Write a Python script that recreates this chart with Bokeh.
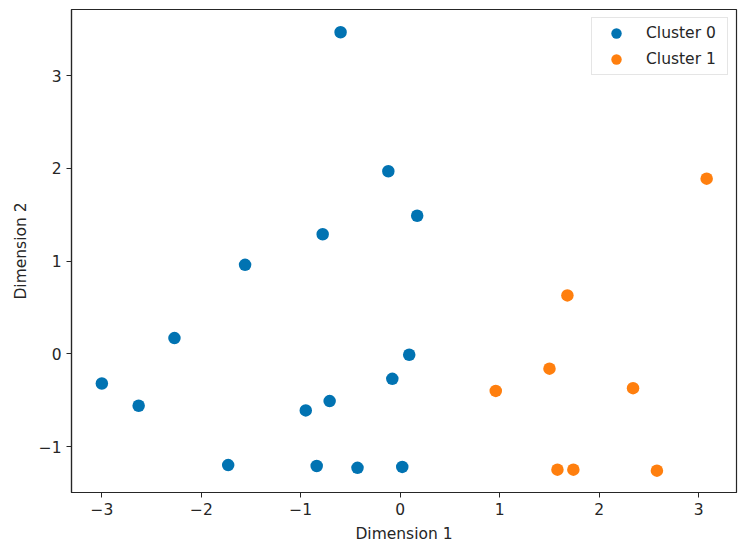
from bokeh.plotting import figure
from bokeh.models import FixedTicker, Legend, LegendItem
from bokeh.embed import file_html
from bokeh.resources import INLINE

# Data
c0_x = [-0.60, -0.12, 0.17, -0.78, -1.56, -2.27, 0.09, -3.00, -0.08, -2.63, -0.71, -0.95, -1.73, -0.84, -0.43, 0.02]
c0_y = [3.47, 1.97, 1.49, 1.29, 0.96, 0.17, -0.01, -0.32, -0.27, -0.56, -0.51, -0.61, -1.20, -1.21, -1.23, -1.22]
c1_x = [3.08, 1.68, 1.50, 0.96, 2.34, 1.58, 1.74, 2.58]
c1_y = [1.89, 0.63, -0.16, -0.40, -0.37, -1.25, -1.25, -1.26]
series_names = ["Cluster 0", "Cluster 1"]
x_ticks = [-3, -2, -1, 0, 1, 2, 3]
y_ticks = [-1, 0, 1, 2, 3]

FONT = "DejaVu Sans"
FS = "15.5px"

p = figure(width=744, height=548, output_backend="svg", toolbar_location=None,
           x_range=(-3.305, 3.38), y_range=(-1.496, 3.715),
           min_border_left=71, min_border_right=8, min_border_top=9, min_border_bottom=56)
p.background_fill_color = "white"
p.border_fill_color = "white"
p.xgrid.visible = False
p.ygrid.visible = False
p.outline_line_color = "#262626"
p.outline_line_width = 1.2

r0 = p.scatter(c0_x, c0_y, size=12.5, color="#0173b2", line_color=None)
r1 = p.scatter(c1_x, c1_y, size=12.5, color="#ff7f0e", line_color=None)

def fmt_minus(v):
    return str(v).replace("-", "\u2212")

for ax, ticks, label in ((p.xaxis[0], x_ticks, "Dimension 1"), (p.yaxis[0], y_ticks, "Dimension 2")):
    ax.ticker = FixedTicker(ticks=ticks)
    ax.major_label_overrides = {t: fmt_minus(t) for t in ticks}
    ax.axis_label = label
    ax.axis_label_text_font = FONT
    ax.axis_label_text_font_size = FS
    ax.axis_label_text_font_style = "normal"
    ax.axis_label_text_color = "#262626"
    ax.major_label_text_font = FONT
    ax.major_label_text_font_size = FS
    ax.major_label_text_color = "#262626"
    ax.minor_tick_line_color = None
    ax.major_tick_in = 0
    ax.major_tick_out = 5
    ax.major_tick_line_color = "#262626"
    ax.axis_line_color = "#262626"
    ax.axis_line_width = 1.2
    ax.major_label_standoff = 5

p.xaxis[0].axis_label_standoff = 7
p.yaxis[0].axis_label_standoff = 6
p.yaxis[0].major_label_orientation = "horizontal"

legend = Legend(items=[LegendItem(label=series_names[0], renderers=[r0]),
                       LegendItem(label=series_names[1], renderers=[r1])],
                location="top_right")
legend.label_text_font = FONT
legend.label_text_font_size = FS
legend.label_text_color = "#262626"
legend.border_line_color = "#cccccc"
legend.border_line_width = 1
legend.background_fill_alpha = 0.8
legend.margin = 8
legend.padding = 2
legend.spacing = 0
legend.glyph_width = 44
legend.glyph_height = 26
legend.label_standoff = 8
legend.label_width = 79
p.add_layout(legend)

open("out.html", "w").write(file_html(p, INLINE))
